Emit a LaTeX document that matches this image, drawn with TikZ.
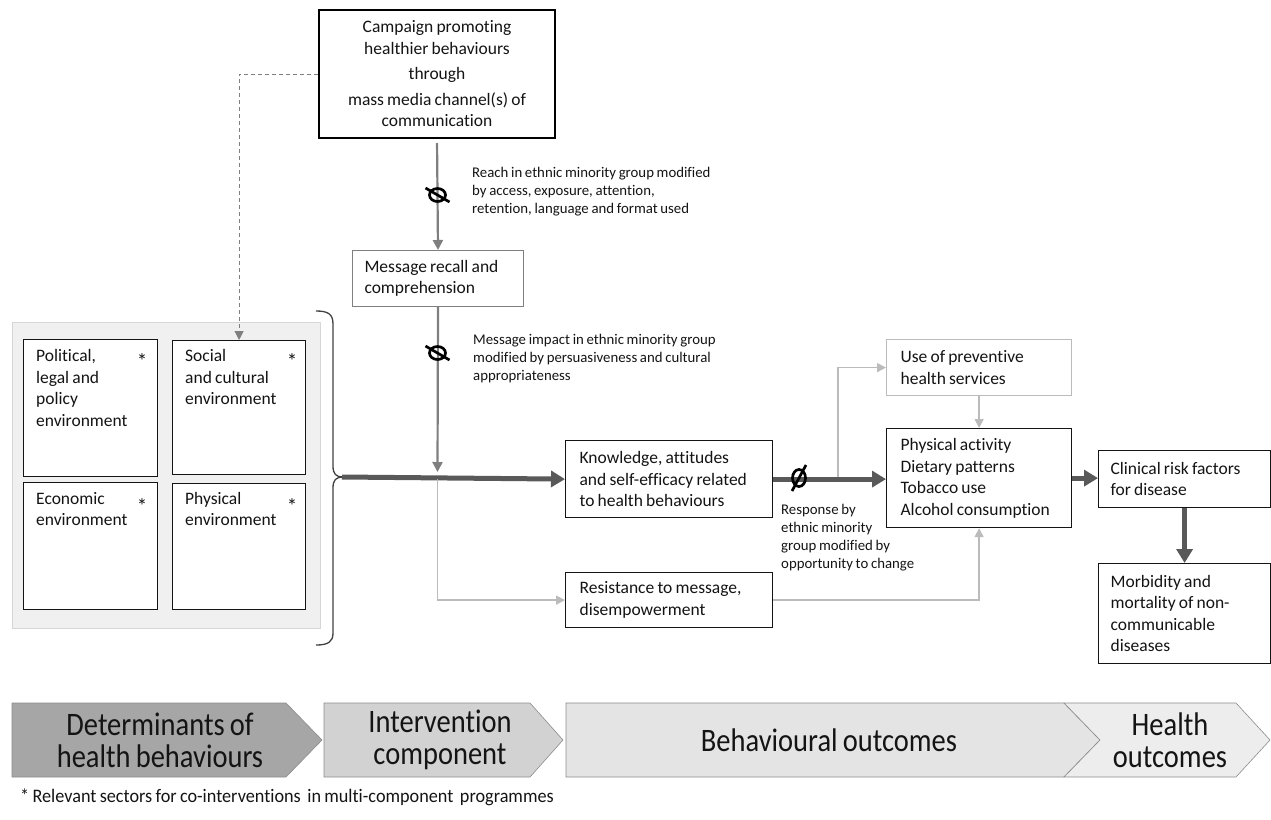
\documentclass[tikz,border=0pt]{standalone}
\usepackage{fontspec}
\setmainfont{Carlito}[Ligatures=NoCommon, WordSpace=0.8]
\usetikzlibrary{arrows.meta,calc}
\definecolor{arrgray}{HTML}{7F7F7F}
\definecolor{thickgray}{HTML}{595959}
\definecolor{lightline}{HTML}{BBBBBB}
\definecolor{bggray}{HTML}{F0F0F0}
\definecolor{bgborder}{HTML}{D6D6D6}
\definecolor{chevA}{HTML}{A6A6A6}
\definecolor{chevB}{HTML}{D2D2D2}
\definecolor{chevC}{HTML}{E4E4E4}
\definecolor{chevD}{HTML}{EDEDED}
\definecolor{chevline}{HTML}{8C8C8C}
\definecolor{txt}{HTML}{141414}
\begin{document}
\begin{tikzpicture}[x=1pt,y=-1pt,
  every node/.style={font=\fontsize{17.5}{21.5}\selectfont, text=txt},
  box/.style={draw=txt, line width=1.2pt, inner ysep=0pt, align=flush left, anchor=north west, fill=white},
  envbox/.style={draw=txt, line width=1.2pt, anchor=north west, inner sep=0pt, fill=white},
  envtext/.style={anchor=north west, inner sep=0pt, align=flush left},
  star/.style={inner sep=0pt, font=\fontsize{21}{21}\selectfont},
  small/.style={anchor=north west, inner sep=0pt, align=flush left, font=\fontsize{14.8}{18}\selectfont},
  grayarrow/.style={draw=arrgray, line width=2.2pt, -{Triangle[length=10pt,width=10pt]}},
  thickarrow/.style={draw=thickgray, line width=5pt, -{Triangle[length=14pt,width=16pt]}},
  lightarrow/.style={draw=lightline, line width=1.6pt, -{Triangle[length=9pt,width=9pt]}},
  nullsym/.style={draw=black, line width=2.7pt},
  chev/.style={draw=chevline, line width=0.6pt},
  chevtext/.style={align=center, font=\fontsize{28.5}{32}\selectfont}
]
\useasboundingbox (0,0) rectangle (1271,819);

% ---------- left determinants panel ----------
\node[draw=bgborder, fill=bggray, line width=1pt, anchor=north west, minimum width=308pt, minimum height=306pt, inner sep=0pt] (panel) at (12,322) {};
\node[envbox, minimum width=134pt, minimum height=137pt] (pol) at (23,339) {};
\node[envbox, minimum width=133pt, minimum height=134pt] (soc) at (172,340) {};
\node[envbox, minimum width=134pt, minimum height=127pt] (eco) at (23,482) {};
\node[envbox, minimum width=133pt, minimum height=126pt] (phy) at (172,483) {};
\node[envtext] (poltext) at (36,349.5) {Political,\\legal and\\policy\\environment};
\node[envtext] (soctext) at (185,349.5) {Social\\and cultural\\environment};
\node[envtext] (ecotext) at (36,492) {Economic\\environment};
\node[envtext] (phytext) at (185,492) {Physical\\environment};
\node[star] (s1) at (142,361) {*};
\node[star] (s2) at (292,361) {*};
\node[star] (s3) at (142,506) {*};
\node[star] (s4) at (292,506) {*};

% brace
\draw[draw=black!75, line width=1.3pt] (316,311) .. controls (328,311) and (333,314) .. (333,324) -- (333,466) .. controls (333,474) and (336,477) .. (343,477) .. controls (336,477) and (333,480) .. (333,488) -- (333,633) .. controls (333,642) and (328,645) .. (316,645);
\coordinate (tip) at (342,477);

% ---------- main boxes ----------
\node[draw=black, line width=2pt, minimum width=236pt, minimum height=128pt, align=center, inner sep=0pt] (camp) at (437,74)
  {Campaign promoting\\healthier behaviours\\[4pt]through\\[4pt]mass media channel(s) of\\communication};
\node[box, draw=arrgray, line width=1pt, text width=147pt, inner xsep=12pt, minimum height=56pt] (recall) at (352,250) {Message recall and\\comprehension};
\node[box, text width=179pt, inner xsep=14pt, minimum height=77pt] (know) at (565,440) {Knowledge, attitudes\\and self-efficacy related\\to health behaviours};
\node[box, text width=179pt, inner xsep=14pt, minimum height=55pt] (resist) at (565,572) {Resistance to message,\\disempowerment};
\node[box, draw=lightline, text width=157pt, inner xsep=14pt, minimum height=56pt] (use) at (886,339) {Use of preventive\\health services};
\node[box, text width=157pt, inner xsep=14pt, minimum height=99pt] (behav) at (886,428) {Physical activity\\Dietary patterns\\Tobacco use\\Alcohol consumption};
\node[box, text width=148pt, inner xsep=12pt, minimum height=57pt] (clin) at (1098,450) {Clinical risk factors\\for disease};
\node[box, text width=148pt, inner xsep=12pt, minimum height=100pt] (morb) at (1098,563) {Morbidity and\\mortality of non-\\communicable\\diseases};

% small labels
\node[small] (reach) at (472,167.5) {Reach in ethnic minority group modified\\by access, exposure, attention,\\retention, language and format used};
\node[small] (impact) at (473,334.5) {Message impact in ethnic minority group\\modified by persuasiveness and cultural\\appropriateness};
\node[small, font=\fontsize{14.8}{17.7}\selectfont] (resp) at (781,504.5) {Response by\\ethnic minority\\group modified by\\opportunity to change};

% ---------- connectors ----------
\draw[dashed, draw=arrgray, line width=1pt, dash pattern=on 4pt off 3pt, -{Triangle[length=9pt,width=9pt]}] (camp.west) -- (camp.west -| soc.north) -- (soc.north);
\draw[grayarrow, shorten <=4pt] (camp.south) -- (recall.north);
\coordinate (j1) at (437.5,472);
\coordinate (j2) at (437.5,479);
\draw[grayarrow] (recall.south) -- (j1);
\draw[thickarrow] (tip) -- (know.west);
\draw[lightarrow] (j2) -- (j2 |- resist.west) -- (resist.west);
\draw[thickarrow] (know.east) -- (know.east -| behav.west);
\coordinate (br) at (838,477);
\draw[lightarrow] (br) -- (br |- use.west) -- (use.west);
\draw[lightarrow] (use.south) -- (behav.north);
\draw[lightarrow] (resist.east) -- (resist.east -| behav.south) -- (behav.south);
\draw[thickarrow] (behav.east) -- (behav.east -| clin.west);
\draw[thickarrow] (clin.south) -- (morb.north);

% null symbols
\coordinate (n1) at (437.5,195);
\coordinate (n2) at (437.5,353);
\coordinate (n3) at (799,478);
\draw[nullsym] (n1) ellipse (8pt and 6.5pt);
\draw[nullsym] ($(n1)+(-12,-7)$) -- ($(n1)+(12,7)$);
\draw[nullsym] (n2) ellipse (8pt and 6.5pt);
\draw[nullsym] ($(n2)+(-12,-7)$) -- ($(n2)+(12,7)$);
\draw[nullsym] (n3) ellipse (6.5pt and 8.5pt);
\draw[nullsym] ($(n3)+(-7,13)$) -- ($(n3)+(7,-13)$);

% ---------- bottom chevrons ----------
\draw[chev, fill=chevA] (12,703) -- (286,703) -- (322,740) -- (286,777) -- (12,777) -- cycle;
\draw[chev, fill=chevB] (324,703) -- (530,703) -- (563,740) -- (530,777) -- (324,777) -- cycle;
\draw[chev, fill=chevC] (566,703) -- (1064,703) -- (1100,740) -- (1064,777) -- (566,777) -- cycle;
\draw[chev, fill=chevD] (1064,703) -- (1236,703) -- (1270,740) -- (1236,777) -- (1064,777) -- (1100,740) -- cycle;
\node[chevtext] (c1) at (160,740) {\scalebox{1}[1.15]{Determinants of}\\\scalebox{1}[1.15]{health behaviours}};
\node[chevtext] (c2) at (440,740) {\scalebox{1}[1.15]{Intervention}\\\scalebox{1}[1.15]{component}};
\node[chevtext] (c3) at (829,740) {\scalebox{1}[1.15]{Behavioural\ outcomes}};
\node[chevtext] (c4) at (1170,740) {\scalebox{1}[1.15]{Health}\\\scalebox{1}[1.15]{outcomes}};

\node[anchor=west, inner sep=0pt, font=\fontsize{18.2}{18}\selectfont] (foot) at (20,797) {\scalebox{1}[1.05]{* Relevant sectors for co-interventions\ \ in multi-component\ \ programmes}};
\end{tikzpicture}
\end{document}
